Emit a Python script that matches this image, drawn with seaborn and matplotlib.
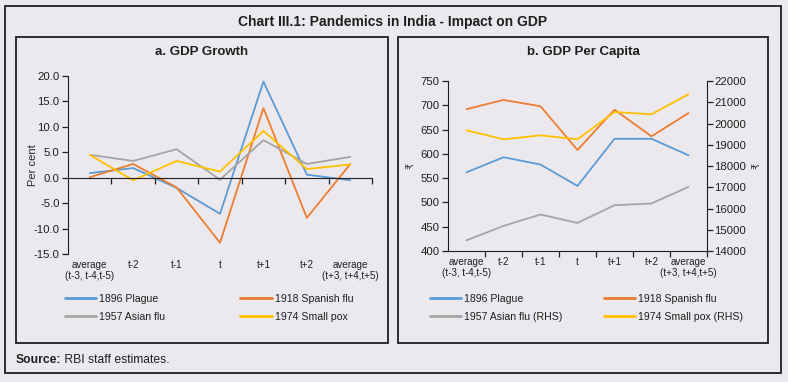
import numpy as np
import pandas as pd
import matplotlib
matplotlib.use("Agg")
import matplotlib.pyplot as plt
from matplotlib.patches import Rectangle
import seaborn as sns

# ─── Data ────────────────────────────────────────────────────

periods = ["average\n(t-3, t-4,t-5)", "t-2", "t-1", "t", "t+1", "t+2", "average\n(t+3, t+4,t+5)"]

# a. GDP growth (per cent)
growth_plague   = [0.9, 1.9, -2.0, -7.1, 18.9, 0.6, -0.5]
growth_spanish  = [0.1, 2.7, -1.9, -12.8, 13.7, -7.9, 2.7]
growth_asian    = [4.5, 3.3, 5.6, -0.4, 7.4, 2.7, 4.1]
growth_smallpox = [4.5, -0.5, 3.3, 1.2, 9.2, 1.7, 2.6]

# b. GDP per capita (rupees)
pc_plague   = [562, 593, 578, 534, 631, 631, 597]
pc_spanish  = [692, 711, 698, 608, 691, 636, 684]
pc_asian    = [14505, 15180, 15717, 15321, 16156, 16236, 17019]   # RHS
pc_smallpox = [19680, 19255, 19443, 19255, 20542, 20434, 21377]   # RHS

names_a = ["1896 Plague", "1918 Spanish flu", "1957 Asian flu", "1974 Small pox"]
names_b = ["1896 Plague", "1918 Spanish flu", "1957 Asian flu (RHS)", "1974 Small pox (RHS)"]
colors = ["#5B9BD5", "#ED7D31", "#A5A5A5", "#FFC000"]

# ─── Style ───────────────────────────────────────────────────

BG = "#ECE9EE"
INK = "#1f1f1f"
sns.set_style("ticks")
plt.rcParams["font.family"] = ["Liberation Sans", "DejaVu Sans"]
plt.rcParams["axes.unicode_minus"] = False
plt.rcParams["axes.edgecolor"] = INK
plt.rcParams["xtick.color"] = INK
plt.rcParams["ytick.color"] = INK
plt.rcParams["text.color"] = INK

W, H = 788, 382
fig = plt.figure(figsize=(W / 100, H / 100), dpi=100, facecolor=BG)


def px_axes(x0, y0, x1, y1):
    """axes from pixel box (top-left origin)"""
    return fig.add_axes([x0 / W, 1 - y1 / H, (x1 - x0) / W, (y1 - y0) / H])


def px_rect(x0, y0, x1, y1, lw=1.3):
    fig.patches.append(Rectangle((x0 / W, 1 - y1 / H), (x1 - x0) / W, (y1 - y0) / H,
                                 transform=fig.transFigure, fill=False,
                                 edgecolor=INK, linewidth=lw))


def long_df(series, names):
    rows = []
    for vals, name in zip(series, names):
        for i, v in enumerate(vals):
            rows.append({"x": i, "value": v, "series": name})
    return pd.DataFrame(rows)


def category_axis(ax, label_pad):
    ax.set_xlim(-0.5, len(periods) - 0.5)
    ax.set_xticks(np.arange(0.5, len(periods)))
    ax.set_xticklabels([])
    ax.tick_params(axis="x", direction="out", length=4, width=0.9)
    sec = ax.secondary_xaxis(0)
    sec.set_xticks(range(len(periods)))
    sec.set_xticklabels(periods, fontsize=7.1, linespacing=1.15)
    sec.tick_params(length=0, pad=label_pad)
    sec.spines["bottom"].set_visible(False)


def px_y(y):
    return 1 - y / H


# frames
px_rect(5, 6, 781, 373)
px_rect(16, 37, 388, 343)
px_rect(398, 37, 768, 343)

fig.text(393 / W, px_y(22), "Chart III.1: Pandemics in India - Impact on GDP",
         ha="center", va="center", fontsize=10, fontweight="bold")
fig.text(202 / W, px_y(52), "a. GDP Growth", ha="center", va="center",
         fontsize=9.5, fontweight="bold")
fig.text(583 / W, px_y(52), "b. GDP Per Capita", ha="center", va="center",
         fontsize=9.5, fontweight="bold")

src = fig.text(16 / W, px_y(360), "Source:", ha="left", va="center",
               fontsize=8.7, fontweight="bold")
fig.add_artist(matplotlib.text.Annotation(" RBI staff estimates.", xy=(1, 0.5), xycoords=src,
                                          va="center", ha="left", fontsize=8.7))

# ─── a. GDP Growth ───────────────────────────────────────────

ax1 = px_axes(68, 76, 372, 254)
ax1.set_facecolor("none")
df_a = long_df([growth_plague, growth_spanish, growth_asian, growth_smallpox], names_a)
sns.lineplot(data=df_a, x="x", y="value", hue="series", palette=colors,
             hue_order=names_a, linewidth=1.3, ax=ax1, legend=False)
ax1.set_ylim(-15, 20)
ax1.set_yticks(np.arange(-15, 21, 5))
ax1.set_yticklabels([f"{v:.1f}" for v in np.arange(-15, 21, 5)], fontsize=8.2)
ax1.tick_params(axis="y", length=4, width=0.9, pad=2)
ax1.spines["top"].set_visible(False)
ax1.spines["right"].set_visible(False)
ax1.spines["bottom"].set_position(("data", 0))
category_axis(ax1, 4)
ax1.set_xlabel("")
ax1.set_ylabel("Per cent", fontsize=8)
ax1.yaxis.set_label_coords(-(68 - 38) / 304, 0.5)

h1 = [plt.Line2D([], [], color=c, lw=2) for c in colors]
ax1.legend([h1[0], h1[2], h1[1], h1[3]], [names_a[0], names_a[2], names_a[1], names_a[3]],
           ncol=2, loc="upper left", bbox_to_anchor=(65 / W, px_y(294)),
           bbox_transform=fig.transFigure, frameon=False, fontsize=7.6,
           handlelength=2.95, handletextpad=0.3, columnspacing=7.1,
           labelspacing=0.72, borderaxespad=0, borderpad=0)

# ─── b. GDP Per Capita ───────────────────────────────────────

ax2 = px_axes(448, 81, 707, 251)
ax2.set_facecolor("none")
ax3 = ax2.twinx()
ax3.set_facecolor("none")

df_left = long_df([pc_plague, pc_spanish], names_b[:2])
df_right = long_df([pc_asian, pc_smallpox], names_b[2:])
sns.lineplot(data=df_left, x="x", y="value", hue="series", palette=colors[:2],
             hue_order=names_b[:2], linewidth=1.3, ax=ax2, legend=False)
sns.lineplot(data=df_right, x="x", y="value", hue="series", palette=colors[2:],
             hue_order=names_b[2:], linewidth=1.3, ax=ax3, legend=False)

ax2.set_ylim(400, 750)
ax2.set_yticks(np.arange(400, 751, 50))
ax2.tick_params(axis="y", labelsize=8.2, length=4, width=0.9, pad=2)
ax3.set_ylim(14000, 22000)
ax3.set_yticks(np.arange(14000, 22001, 1000))
ax3.tick_params(axis="y", labelsize=8.2, length=4, width=0.9, pad=1)
for a in (ax2, ax3):
    a.spines["top"].set_visible(False)
ax2.spines["right"].set_visible(False)
ax3.spines["left"].set_visible(False)
ax3.spines["bottom"].set_visible(False)
category_axis(ax2, 4)
ax2.set_xlabel("")
ax2.set_ylabel("₹", fontsize=7)
ax2.yaxis.set_label_coords(-(448 - 416) / 259, 0.5)
ax3.set_ylabel("₹", fontsize=7)
ax3.yaxis.set_label_coords(1 + (752 - 707) / 259, 0.5)

ax2.legend([h1[0], h1[2], h1[1], h1[3]], [names_b[0], names_b[2], names_b[1], names_b[3]],
           ncol=2, loc="upper left", bbox_to_anchor=(430 / W, px_y(294)),
           bbox_transform=fig.transFigure, frameon=False, fontsize=7.6,
           handlelength=2.95, handletextpad=0.3, columnspacing=3.9,
           labelspacing=0.72, borderaxespad=0, borderpad=0)

fig.savefig("out.png", dpi=100, facecolor=BG)
